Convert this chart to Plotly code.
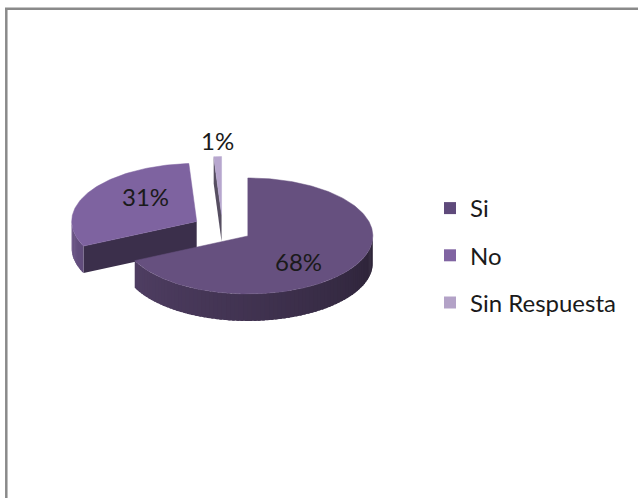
import numpy as np
import plotly.graph_objects as go

# --- data -------------------------------------------------------------
categories = ["Si", "No", "Sin Respuesta"]
values = [68, 31, 1]
labels = ["68%", "31%", "1%"]
face_colors = ["#66507F", "#7E63A0", "#B7A6CE"]
legend_colors = ["#5F4A7B", "#8064A2", "#B3A2C7"]

# --- geometry of the tilted, exploded pie (pixel space) ---------------
W, H = 638, 498
CX, CY = 222.5, 228.5      # pie centre before explosion
RX, RY = 125.0, 58.0       # ellipse radii of the top face
DEPTH = 27.0               # thickness of the disc
EXPLODE = 0.24             # explosion as a fraction of the radius
LAB_RX, LAB_RY = 60.0, 48.0
FONT = "Lato, 'Open Sans', sans-serif"


def hex_rgb(h):
    h = h.lstrip("#")
    return [int(h[i:i + 2], 16) for i in (0, 2, 4)]


def shade(h, f):
    r, g, b = [max(0, min(255, int(round(c * f)))) for c in hex_rgb(h)]
    return f"rgb({r},{g},{b})"


def rim(cx, cy, deg):
    t = np.radians(deg)
    return cx + RX * np.sin(t), cy - RY * np.cos(t)


total = float(sum(values))
bounds = np.concatenate([[0.0], np.cumsum(values) / total * 360.0])

slices = []
for i, cat in enumerate(categories):
    a, b = bounds[i], bounds[i + 1]
    mid = 0.5 * (a + b)
    m = np.radians(mid)
    cx = CX + EXPLODE * RX * np.sin(m)
    cy = CY - EXPLODE * RY * np.cos(m)
    slices.append(dict(i=i, a=a, b=b, mid=mid, cx=cx, cy=cy))

fig = go.Figure()


def add_poly(xs, ys, color, edge=0.0):
    fig.add_trace(go.Scatter(
        x=list(xs) + [xs[0]], y=list(ys) + [ys[0]],
        mode="lines", fill="toself", fillcolor=color,
        line=dict(color=color, width=edge),
        hoverinfo="skip", showlegend=False))


# draw slices from back to front
for s in sorted(slices, key=lambda d: d["cy"]):
    col = face_colors[s["i"]]
    cx, cy, a, b = s["cx"], s["cy"], s["a"], s["b"]

    # radial cut faces that look toward the viewer
    for edge, visible in ((a, np.sin(np.radians(a)) < -1e-6),
                          (b, np.sin(np.radians(b)) > 1e-6)):
        if visible:
            rx_, ry_ = rim(cx, cy, edge)
            add_poly([cx, rx_, rx_, cx], [cy, ry_, ry_ + DEPTH, cy + DEPTH],
                     shade(col, 0.47))

    # outer curved wall, front half only, shaded by angle; each strip
    # overlaps the previous one slightly so no seams show
    lo, hi = max(a, 90.0), min(b, 270.0)
    if hi > lo:
        steps = max(2, int(np.ceil((hi - lo) / 2.0)))
        ts = np.linspace(lo, hi, steps + 1)
        for t1, t2 in zip(ts[:-1], ts[1:]):
            tm = 0.5 * (t1 + t2)
            k = (tm - 90.0) / 180.0
            f = 0.40 + 0.42 * k ** 0.85
            t0 = max(lo, t1 - 1.2)
            arc = np.linspace(t0, t2, 4)
            xa, ya = rim(cx, cy, arc)
            add_poly(np.concatenate([xa, xa[::-1]]),
                     np.concatenate([ya, ya[::-1] + DEPTH]), shade(col, f))

    # top face
    ts = np.linspace(a, b, max(3, int(np.ceil(b - a)) + 1))
    xs, ys = rim(cx, cy, ts)
    add_poly(np.concatenate([[cx], xs]), np.concatenate([[cy], ys]), col, 0.5)

# percentage labels
annotations = []
for s in slices:
    m = np.radians(s["mid"])
    if values[s["i"]] >= 5:
        lx = s["cx"] + LAB_RX * np.sin(m)
        ly = s["cy"] - LAB_RY * np.cos(m)
    else:
        lx = s["cx"] + RX * np.sin(m)
        ly = s["cy"] - (RY + 16) * np.cos(m)
    annotations.append(dict(x=lx, y=ly, xref="x", yref="y", text=labels[s["i"]],
                            showarrow=False, font=dict(size=24, color="#1a1a1a", family=FONT)))

# legend entries
for cat, c in zip(categories, legend_colors):
    fig.add_trace(go.Scatter(
        x=[-100], y=[-100], mode="markers", name=cat, legendgroup=cat,
        marker=dict(symbol="square", size=12, color=c, line=dict(width=0)),
        hoverinfo="skip"))

# chart frame
shapes = [
    dict(type="line", xref="x", yref="y", x0=6.3, y0=H + 5, x1=6.3, y1=8.7,
         line=dict(color="#8a8a8a", width=2.5)),
    dict(type="line", xref="x", yref="y", x0=5, y0=8.7, x1=W + 5, y1=8.7,
         line=dict(color="#8a8a8a", width=2.5)),
]

fig.update_layout(
    width=W, height=H,
    margin=dict(l=0, r=0, t=0, b=0),
    paper_bgcolor="white", plot_bgcolor="white",
    xaxis=dict(range=[0, W], visible=False, fixedrange=True),
    yaxis=dict(range=[H, 0], visible=False, fixedrange=True),
    annotations=annotations,
    shapes=shapes,
    showlegend=True,
    legend=dict(x=430 / W, y=1 - 186 / H, xanchor="left", yanchor="top",
                font=dict(size=24, color="#1a1a1a", family=FONT),
                tracegroupgap=13, itemclick=False, itemdoubleclick=False,
                bgcolor="rgba(0,0,0,0)"),
)

fig.write_html("out.html")
